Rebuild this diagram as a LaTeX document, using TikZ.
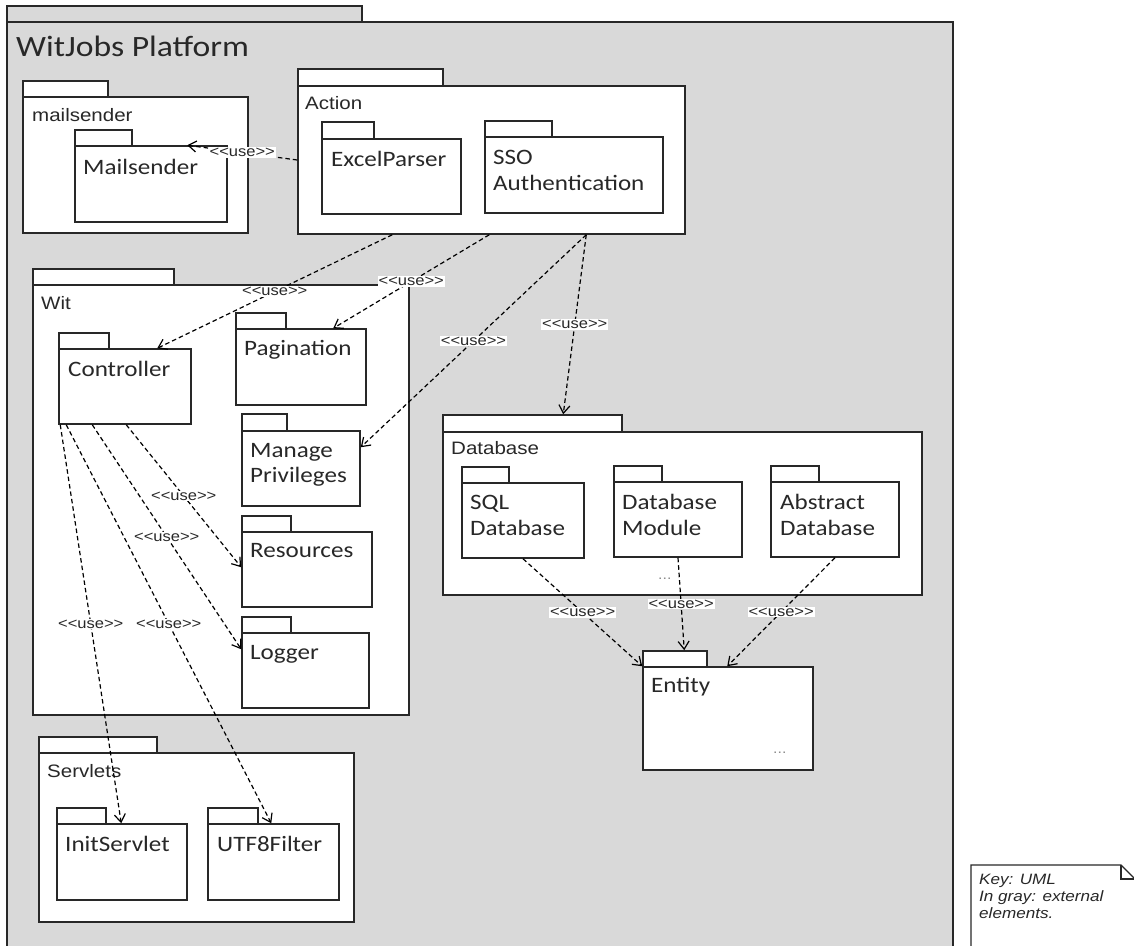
\documentclass[tikz,border=0pt]{standalone}
\usepackage{fontspec}
\setmainfont{Liberation Sans}
\newfontfamily\calfont[FakeStretch=1.14]{Carlito}
\newfontfamily\arifont[FakeStretch=1.14,Ligatures=TeXOff]{Liberation Sans}
\usetikzlibrary{arrows.meta,fit}
\definecolor{platgray}{RGB}{217,217,217}
\definecolor{ink}{RGB}{40,40,40}

\tikzset{
  pkgline/.style={draw=ink, line width=1.5pt},
  tabbox/.style={pkgline, inner sep=0pt},
  bodybox/.style={pkgline, inner sep=0pt},
  lbl/.style={anchor=base west, inner sep=0pt, text=ink},
  outerfont/.style={font=\calfont\fontsize{29.5}{32}\selectfont},
  pkgfont/.style={font=\arifont\fontsize{18}{20}\selectfont},
  innerfont/.style={font=\calfont\fontsize{22}{26}\selectfont},
  keyfont/.style={font=\arifont\itshape\fontsize{15}{17}\selectfont},
  dep/.style={draw=black, line width=1.2pt, dash pattern=on 4.5pt off 3pt,
    -{Straight Barb[length=8pt,width=11pt]}},
  uselbl/.style={fill=white, inner sep=1pt, text=ink,
    font=\arifont\fontsize{14.5}{16}\selectfont},
  dots/.style={anchor=base west, inner sep=0pt, text=black!45,
    font=\arifont\fontsize{14}{16}\selectfont},
}

% UML package: name, left x, tab top, tab right, body top, right x, bottom y, fill
\newcommand\umlpkg[8]{%
  \node[tabbox, fill=#8, fit={(#2,#3)(#4,#5)}] (#1tab) {};
  \node[bodybox, fill=#8, fit={(#2,#5)(#6,#7)}] (#1) {};
}

\begin{document}
\begin{tikzpicture}[x=1pt, y=-1pt]
  \useasboundingbox (0,0) rectangle (1134,945);
  \clip (0,0) rectangle (1134,945);
  \fill[white] (0,0) rectangle (1134,945);

  % packages
  \umlpkg{platform}{7}{6}{362}{22}{953}{968}{platgray}
  \umlpkg{mailpkg}{23}{81}{108}{97}{248}{233}{white}
  \umlpkg{mailsender}{75}{130}{132}{146}{227}{222}{white}
  \umlpkg{action}{298}{69}{443}{86}{685}{234}{white}
  \umlpkg{excel}{322}{122}{374}{139}{461}{214}{white}
  \umlpkg{sso}{485}{121}{552}{137}{663}{213}{white}
  \umlpkg{wit}{33}{269}{174}{285}{409}{715}{white}
  \umlpkg{controller}{59}{333}{109}{349}{191}{424}{white}
  \umlpkg{pagination}{236}{313}{286}{329}{366}{405}{white}
  \umlpkg{privileges}{242}{414}{287}{431}{360}{506}{white}
  \umlpkg{resources}{242}{516}{291}{532}{372}{607}{white}
  \umlpkg{logger}{242}{617}{291}{633}{369}{708}{white}
  \umlpkg{database}{443}{415}{622}{432}{922}{595}{white}
  \umlpkg{sqldb}{462}{467}{509}{483}{584}{558}{white}
  \umlpkg{dbmodule}{614}{466}{662}{482}{742}{557}{white}
  \umlpkg{abstractdb}{771}{466}{819}{482}{899}{557}{white}
  \umlpkg{entity}{643}{651}{707}{667}{813}{770}{white}
  \umlpkg{servlets}{39}{737}{157}{753}{354}{922}{white}
  \umlpkg{initservlet}{57}{808}{106}{824}{187}{900}{white}
  \umlpkg{utffilter}{208}{808}{258}{824}{339}{900}{white}

  % package names
  \node[lbl, outerfont] (tPlatform) at (16,56) {WitJobs Platform};
  \node[lbl, pkgfont] (tMailpkg) at (32,121) {mailsender};
  \node[lbl, innerfont] (tMailsender) at (83,174) {Mailsender};
  \node[lbl, pkgfont] (tAction) at (305,109) {Action};
  \node[lbl, innerfont] (tExcel) at (331,166) {ExcelParser};
  \node[lbl, innerfont] (tSSOa) at (493,164) {SSO};
  \node[lbl, innerfont] (tSSOb) at (493,190) {Authentication};
  \node[lbl, pkgfont] (tWit) at (41,309) {Wit};
  \node[lbl, innerfont] (tController) at (68,376) {Controller};
  \node[lbl, innerfont] (tPagination) at (244,355) {Pagination};
  \node[lbl, innerfont] (tManage) at (250,457) {Manage};
  \node[lbl, innerfont] (tPrivileges) at (250,482) {Privileges};
  \node[lbl, innerfont] (tResources) at (250,557) {Resources};
  \node[lbl, innerfont] (tLogger) at (250,659) {Logger};
  \node[lbl, pkgfont] (tDatabase) at (451,454) {Database};
  \node[lbl, innerfont] (tSQLa) at (470,509) {SQL};
  \node[lbl, innerfont] (tSQLb) at (470,535) {Database};
  \node[lbl, innerfont] (tModa) at (622,509) {Database};
  \node[lbl, innerfont] (tModb) at (622,535) {Module};
  \node[lbl, innerfont] (tAbsa) at (780,509) {Abstract};
  \node[lbl, innerfont] (tAbsb) at (780,535) {Database};
  \node[dots] (dbdots) at (658,579) {...};
  \node[lbl, innerfont] (tEntity) at (651,692) {Entity};
  \node[dots] (entitydots) at (773,753) {...};
  \node[lbl, pkgfont] (tServlets) at (47,777) {Servlets};
  \node[lbl, innerfont] (tInit) at (65,851) {InitServlet};
  \node[lbl, innerfont] (tUtf) at (217,851) {UTF8Filter};

  % key note
  \draw[pkgline, line width=1.2pt, fill=white]
    (971,960) -- (971,865) -- (1121,865) -- (1135,879) -- (1135,960);
  \draw[pkgline, line width=1.2pt] (1121,865) -- (1121,879) -- (1135,879);
  \node[lbl, keyfont] (keyA) at (979,884) {Key: UML};
  \node[lbl, keyfont] (keyB) at (979,901) {In gray: external};
  \node[lbl, keyfont] (keyC) at (979,918) {elements.};

  % dependencies
  \draw[dep] (action.west) -- node[uselbl, midway] {<<use>>}
    ([xshift=113pt]mailsender.north west);
  \draw[dep] ([xshift=95pt]action.south west) -- node[uselbl, midway] {<<use>>}
    ([xshift=99pt]controller.north west);
  \draw[dep] ([xshift=192pt]action.south west) -- node[uselbl, midway] {<<use>>}
    ([xshift=98pt]pagination.north west);
  \draw[dep] ([xshift=289pt]action.south west) -- node[uselbl, midway] {<<use>>}
    ([yshift=-17pt]privileges.north east);
  \draw[dep] ([xshift=289pt]action.south west) -- node[uselbl, midway] {<<use>>}
    ([xshift=121pt]databasetab.north west);
  \draw[dep] ([xshift=68pt]controller.south west) -- node[uselbl, midway] {<<use>>}
    ([yshift=-36pt]resources.north west);
  \draw[dep] ([xshift=34pt]controller.south west) -- node[uselbl, midway] {<<use>>}
    ([yshift=-17pt]logger.north west);
  \draw[dep] ([xshift=2pt]controller.south west) -- node[uselbl, midway] {<<use>>}
    ([xshift=65pt]initservlet.north west);
  \draw[dep] ([xshift=8pt]controller.south west) -- node[uselbl, midway] {<<use>>}
    ([xshift=64pt]utffilter.north west);
  \draw[dep] (sqldb.south) -- node[uselbl, midway] {<<use>>} (entity.north west);
  \draw[dep] (dbmodule.south) -- node[uselbl, midway] {<<use>>}
    ([xshift=42pt]entitytab.north west);
  \draw[dep] (abstractdb.south) -- node[uselbl, midway] {<<use>>}
    ([xshift=85pt]entity.north west);
\end{tikzpicture}
\end{document}
